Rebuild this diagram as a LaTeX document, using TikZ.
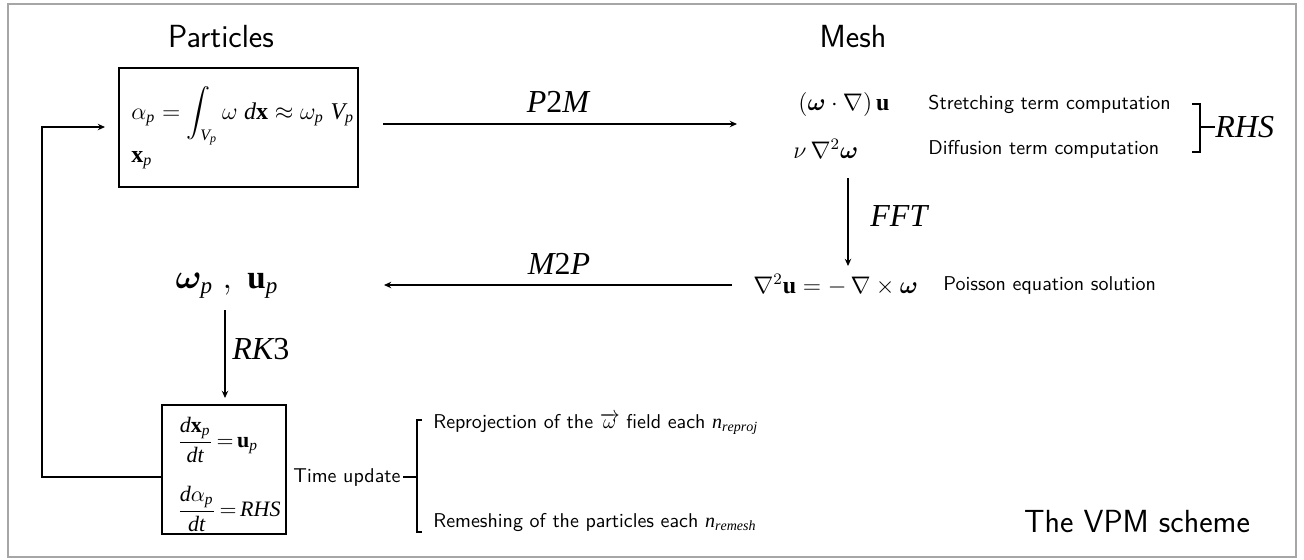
\documentclass[tikz,border=0pt]{standalone}
\usepackage{amsmath}
\usepackage{bm}
\usepackage{fontspec}
\setmathrm{Liberation Serif}
\newcommand{\mi}[1]{\mathit{#1}}
\usetikzlibrary{arrows.meta}
\tikzset{
  arr/.style={-{Stealth[length=3.6pt,width=3.2pt]}, line width=0.6pt},
  ln/.style={line width=0.6pt},
  boxst/.style={draw, line width=0.6pt, inner sep=0},
  lbl/.style={inner sep=0, font=\fontsize{16}{19}\selectfont},
  mth/.style={inner sep=0, font=\fontsize{12}{15}\selectfont},
  bmth/.style={inner sep=0, font=\fontsize{11}{14}\selectfont},
  bigm/.style={inner sep=0, font=\fontsize{16.5}{20}\selectfont},
  sm/.style={inner sep=0, font=\sffamily\fontsize{10}{12}\selectfont},
  title/.style={inner sep=0, font=\sffamily\fontsize{16}{19}\selectfont},
}
\begin{document}
\begin{tikzpicture}[x=0.5pt,y=-0.5pt]
\useasboundingbox (0,0) rectangle (1304,559);
\draw[gray!70, line width=0.6pt] (8,4) rectangle (1296,557);

% titles
\node[title] (tpart) at (221,37) {Particles};
\node[title] (tmesh) at (853,37) {Mesh};
\node[title] (tvpm) at (1137,522) {The VPM scheme};

% top particle box
\node[boxst, minimum width=119.5pt, minimum height=59.5pt] (pbox) at (238.5,127.5) {};
\node[mth, anchor=west] (alpha) at (131,116) {$\alpha_{\mi{p}} = \displaystyle\int_{\mi{V}_{\mi{p}}} \omega \; \mi{d}\mathbf{x} \approx \omega_{\mi{p}} \; \mi{V}_{\mi{p}}$};
\node[mth, anchor=west] (xp) at (131,160) {$\mathbf{x}_{\mi{p}}$};

% mesh terms
\node[mth, anchor=west] (stretch) at (798,104) {$(\bm{\omega}\cdot\nabla)\,\mathbf{u}$};
\node[sm, anchor=west] (stretcht) at (928,104) {Stretching term computation};
\node[mth, anchor=west] (diff) at (793,149) {$\nu\,\nabla^2\bm{\omega}$};
\node[sm, anchor=west] (difft) at (928,149) {Diffusion term computation};
\node[lbl, anchor=west] (rhs) at (1215,127) {$\mi{RHS}$};
\coordinate (bt) at (1200,104);
\coordinate (bb) at (1200,152);
\draw[ln] (1192,104) -- (bt) -- (bb) -- (1192,152);
\draw[ln] (1200,127) -- (rhs.west);

% P2M
\coordinate (p2ms) at (383,124);
\coordinate (p2me) at (737,124);
\draw[arr] (p2ms) -- (p2me);
\node[lbl] (p2m) at (558,102) {$\mi{P}\mathrm{2}\mi{M}$};

% FFT
\coordinate (ffts) at (848,178);
\coordinate (ffte) at (848,266);
\draw[arr] (ffts) -- (ffte);
\node[lbl, anchor=west] (fft) at (870,216) {$\mi{FFT}$};

% Poisson
\node[mth, anchor=west] (pois) at (753,285) {$\nabla^2\mathbf{u} = -\,\nabla\times\bm{\omega}$};
\node[sm, anchor=west] (poist) at (943,285) {Poisson equation solution};

% M2P
\coordinate (m2ps) at (732,285);
\coordinate (m2pe) at (384,285);
\draw[arr] (m2ps) -- (m2pe);
\node[lbl] (m2p) at (559,264) {$\mi{M}\mathrm{2}\mi{P}$};

% omega_p, u_p
\node[bigm] (wu) at (227,286) {$\bm{\omega}_{\mi{p}} \;,\; \mathbf{u}_{\mi{p}}$};

% RK3
\coordinate (rks) at (225,310);
\coordinate (rke) at (225,398);
\draw[arr] (rks) -- (rke);
\node[lbl, anchor=west] (rk) at (232,349) {$\mi{RK}\mathrm{3}$};

% bottom box
\node[boxst, minimum width=62pt, minimum height=64.5pt] (tbox) at (224,469.5) {};
\node[bmth, anchor=west] (eq1) at (177,440) {$\thickmuskip=3mu\relax \dfrac{\mi{d}\mathbf{x}_{\mi{p}}}{\mi{dt}} = \mathbf{u}_{\mi{p}}$};
\node[bmth, anchor=west] (eq2) at (177,509) {$\thickmuskip=3mu\relax \dfrac{\mi{d}\alpha_{\mi{p}}}{\mi{dt}} = \mi{RHS}$};

% feedback loop
\coordinate (fb1) at (42,477);
\coordinate (fb2) at (42,127);
\coordinate (fb3) at (105,127);
\draw[arr] (tbox.west |- fb1) -- (fb1) -- (fb2) -- (fb3);

% time update
\node[sm, anchor=west] (tu) at (293,477) {Time update};
\draw[ln] (403,477) -- (417,477);
\draw[ln] (422,420) -- (417,420) -- (417,532) -- (422,532);
\node[sm, anchor=west] (rep) at (433,424) {Reprojection of the $\overrightarrow{\omega}$ field each $\mi{n}_{\mi{reproj}}$};
\node[sm, anchor=west] (rem) at (433,522) {Remeshing of the particles each $\mi{n}_{\mi{remesh}}$};
\end{tikzpicture}
\end{document}
